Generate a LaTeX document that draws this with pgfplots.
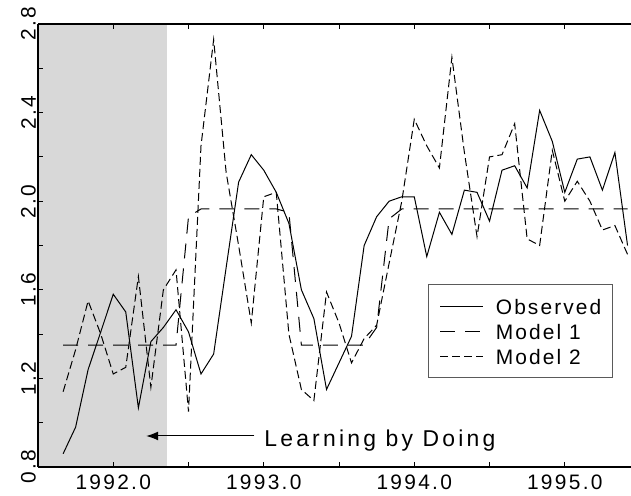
\documentclass[border=0pt]{standalone}
\usepackage{pgfplots}
\pgfplotsset{compat=1.18}
\usepackage{pgfplotstable}
\usepackage{fontspec}
\setmainfont{Liberation Sans}
\usetikzlibrary{arrows.meta}
\definecolor{shade}{RGB}{216,216,216}
\definecolor{legframe}{RGB}{90,90,90}

\pgfplotstableread{
t        obs    m1     m2
1991.667 0.86   1.35   1.14
1991.750 0.98   1.35   1.33
1991.833 1.24   1.35   1.55
1991.917 1.41   1.35   1.40
1992.000 1.58   1.35   1.22
1992.083 1.50   1.35   1.25
1992.167 1.067  1.35   1.66
1992.250 1.366  1.35   1.16
1992.333 1.43   1.35   1.60
1992.417 1.51   1.35   1.69
1992.500 1.41   1.93   1.05
1992.583 1.22   1.965  2.25
1992.667 1.31   1.965  2.73
1992.750 1.70   1.965  2.13
1992.833 2.086  1.965  1.80
1992.917 2.21   1.965  1.45
1993.000 2.14   1.965  2.02
1993.083 2.04   1.965  2.04
1993.167 1.90   1.95   1.40
1993.250 1.60   1.35   1.15
1993.333 1.47   1.35   1.10
1993.417 1.15   1.35   1.59
1993.500 1.27   1.35   1.45
1993.583 1.39   1.35   1.27
1993.667 1.80   1.35   1.38
1993.750 1.93   1.43   1.44
1993.833 2.00   1.92   1.72
1993.917 2.02   1.965  2.00
1994.000 2.02   1.965  2.37
1994.083 1.75   1.965  2.25
1994.167 1.95   1.965  2.15
1994.250 1.85   1.965  2.65
1994.333 2.05   1.965  2.22
1994.417 2.04   1.965  1.84
1994.500 1.91   1.965  2.20
1994.583 2.14   1.965  2.21
1994.667 2.16   1.965  2.35
1994.750 2.06   1.965  1.83
1994.833 2.41   1.965  1.80
1994.917 2.27   1.965  2.23
1995.000 2.04   1.965  2.00
1995.083 2.19   1.965  2.09
1995.167 2.20   1.965  2.00
1995.250 2.05   1.965  1.87
1995.333 2.22   1.965  1.89
1995.417 1.80   1.965  1.76
}\datatable

\begin{document}
\begin{tikzpicture}
\begin{axis}[
  scale only axis, width=593bp, height=443bp,
  xmin=1991.5, xmax=1995.44, ymin=0.8, ymax=2.8,
  axis x line*=box, axis y line*=left,
  axis on top,
  axis line style={line width=2bp, black},
  xtick={1992,1993,1994,1995}, xticklabels={1992.0,1993.0,1994.0,1995.0},
  minor xtick={1991.5,1992.5,1993.5,1994.5},
  ytick={0.8,1.2,1.6,2.0,2.4,2.8}, yticklabels={0.8,1.2,1.6,2.0,2.4,2.8},
  minor ytick={1.0,1.4,1.8,2.2,2.6},
  tick align=inside,
  major tick length=5bp, minor tick length=5bp,
  every tick/.style={black, line width=1bp},
  tick label style={font=\fontsize{21}{21}\selectfont\addfontfeatures{LetterSpace=11}},
  xticklabel style={inner sep=0pt, yshift=-8bp},
  yticklabel style={rotate=90, anchor=south, inner sep=0pt, yshift=2bp},
  legend cell align=left,
  legend image code/.code={\draw[#1] (0bp,0bp) -- (43bp,0bp);},
  legend style={
    at={(axis cs:1994.094,1.626)}, anchor=north west,
    draw=legframe, line width=1bp,
    font=\fontsize{21}{21}\selectfont\addfontfeatures{LetterSpace=10},
    inner xsep=11bp, inner ysep=11bp, row sep=4bp,
    nodes={text height=16bp, text depth=0bp, inner ysep=2.5bp, inner xsep=0bp},
    /tikz/every odd column/.append style={column sep=12bp}
  },
]
\addplot[draw=none, fill=shade, forget plot] coordinates {(1991.5,0.8) (1992.354,0.8) (1992.354,2.8) (1991.5,2.8)} -- cycle;

\addplot[black, line width=1bp, solid] table[x=t, y=obs] {\datatable};
\addlegendentry{Observed}
\addplot[black, line width=1bp, dash pattern=on 15bp off 10bp] table[x=t, y=m1] {\datatable};
\addlegendentry{Model 1}
\addplot[black, line width=1bp, dash pattern=on 8bp off 4bp] table[x=t, y=m2] {\datatable};
\addlegendentry{Model 2}

\draw[-{Latex[length=12bp,width=9bp]}, line width=1bp] (axis cs:1992.937,0.94) -- (axis cs:1992.219,0.94);
\node[anchor=base west, font=\fontsize{23}{23}\selectfont\addfontfeatures{LetterSpace=14}, inner sep=0pt] at (axis cs:1993.003,0.893) {Learning by Doing};
\end{axis}
\pgfresetboundingbox
\path[use as bounding box] ([xshift=-38bp,yshift=-29bp]current axis.south west) rectangle ([yshift=24bp]current axis.north east);
\end{tikzpicture}
\end{document}
